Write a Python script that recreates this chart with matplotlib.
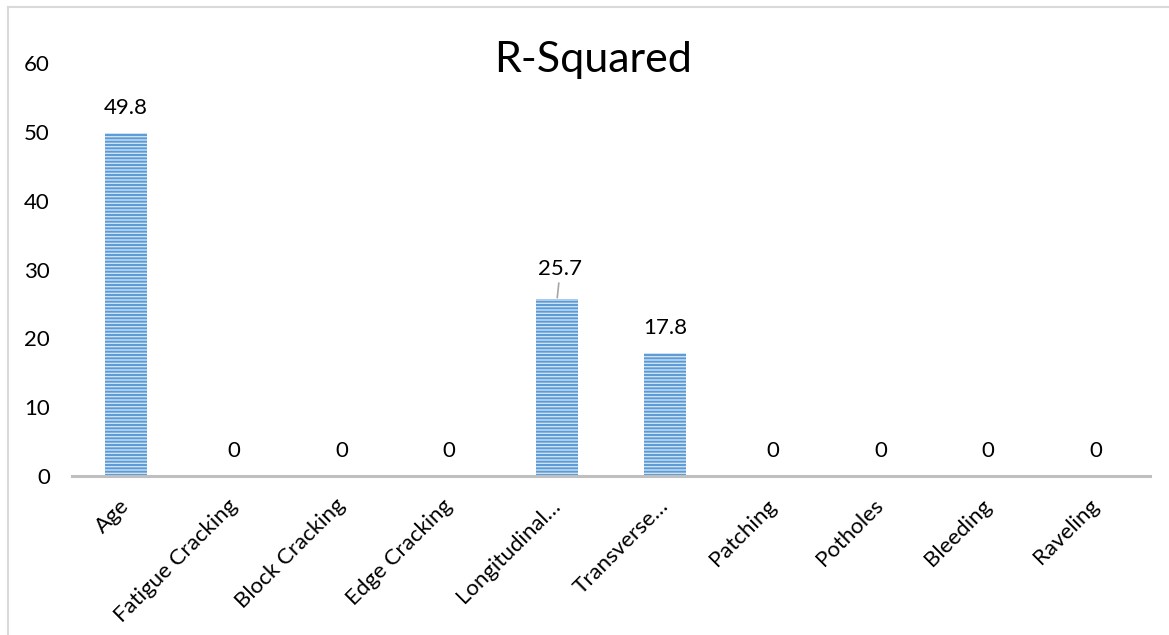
import matplotlib
matplotlib.use("Agg")
import matplotlib.pyplot as plt
from matplotlib.lines import Line2D

plt.rcParams['font.family'] = ['Lato', 'DejaVu Sans']
plt.rcParams['hatch.linewidth'] = 1.4

categories = ["Age", "Fatigue Cracking", "Block Cracking", "Edge Cracking",
              "Longitudinal\u2026", "Transverse\u2026", "Patching", "Potholes",
              "Bleeding", "Raveling"]
r_squared = [49.8, 0, 0, 0, 25.7, 17.8, 0, 0, 0, 0]
y_ticks = [0, 10, 20, 30, 40, 50, 60]

W, H = 1169, 635
fig = plt.figure(figsize=(W / 100, H / 100), dpi=100)
ax = fig.add_axes([72 / W, 1 - 476 / H, (1150 - 72) / W, (476 - 63) / H])

x = range(len(categories))
ax.bar(x, r_squared, width=0.39, color='#cfe1f4', edgecolor='#5b9bd5',
       linewidth=0, hatch='-----', zorder=2)

for i, v in enumerate(r_squared):
    label = f"{v:g}"
    if i == 4:
        # label lifted above the bar with a short leader line
        ax.annotate(label, xy=(i, v), xytext=(i + 0.03, v + 4.4),
                    ha='center', va='center', fontsize=16,
                    arrowprops=dict(arrowstyle='-', color='#a6a6a6', lw=1.2,
                                    shrinkA=1, shrinkB=1))
    else:
        ax.annotate(label, xy=(i, v), xytext=(0, 18), textcoords='offset points',
                    ha='center', va='center', fontsize=16)

ax.set_xlim(-0.5, len(categories) - 0.5)
ax.set_ylim(0, 60)
ax.set_yticks(y_ticks)
ax.set_yticklabels([str(t) for t in y_ticks], fontsize=16)
ax.set_xticks(list(x))
ax.set_xticklabels(categories, fontsize=16, rotation=45, ha='right',
                   va='center', rotation_mode='anchor')
ax.tick_params(axis='y', length=0, pad=16)
ax.tick_params(axis='x', length=0, pad=19)

for side in ('left', 'right', 'top'):
    ax.spines[side].set_visible(False)
ax.spines['bottom'].set_color('#bfbfbf')
ax.spines['bottom'].set_linewidth(2.2)

fig.text(593 / W, 1 - 60 / H, "R-Squared", ha='center', va='center', fontsize=31)

# outer chart frame (left and top edges)
fig.add_artist(Line2D([7.5 / W, 7.5 / W], [0, 1 - 6.5 / H], transform=fig.transFigure,
                      color='#d9d9d9', lw=1.5))
fig.add_artist(Line2D([7.5 / W, 1], [1 - 6.5 / H, 1 - 6.5 / H], transform=fig.transFigure,
                      color='#d9d9d9', lw=1.5))

fig.savefig("out.png", dpi=100, facecolor='white')
